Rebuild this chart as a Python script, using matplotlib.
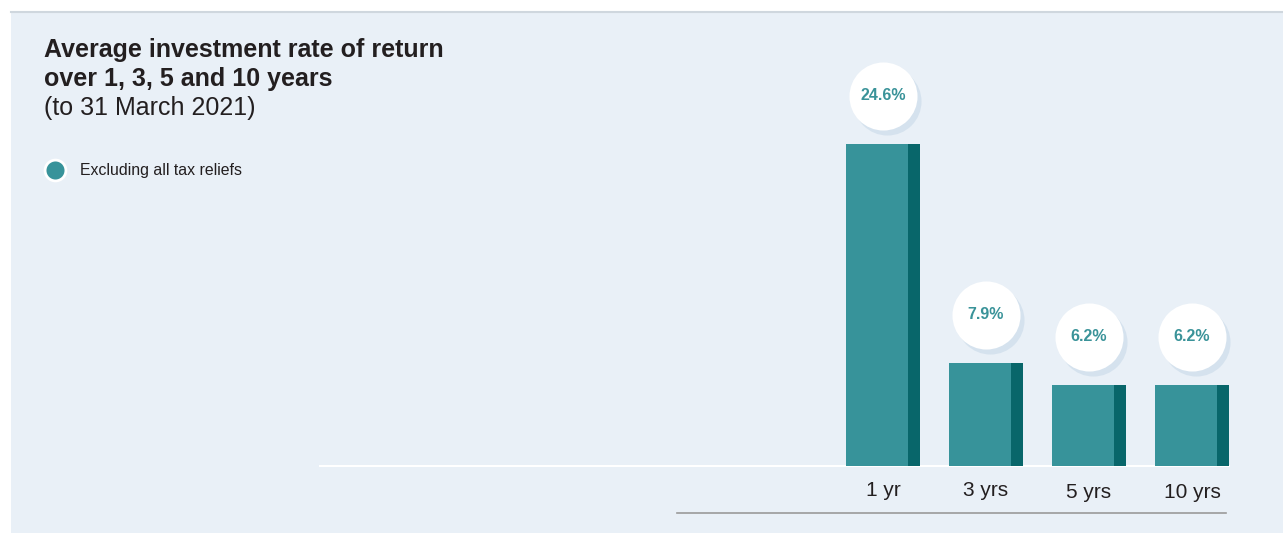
import matplotlib
matplotlib.use("Agg")
import matplotlib.pyplot as plt
from matplotlib.patches import Rectangle
from matplotlib.lines import Line2D
from matplotlib.transforms import offset_copy

plt.rcParams["font.family"] = ["Liberation Sans", "DejaVu Sans"]

# Data
periods = ["1 yr", "3 yrs", "5 yrs", "10 yrs"]
returns = [24.6, 7.9, 6.2, 6.2]
value_labels = ["24.6%", "7.9%", "6.2%", "6.2%"]

TEAL = "#37939a"
TEAL_DARK = "#08666a"
PANEL = "#e9f0f7"
SHADOW = "#d5e2ee"
INK = "#231f20"

W, H = 1283, 533
fig = plt.figure(figsize=(W / 100, H / 100), dpi=100)
fig.patch.set_facecolor("white")


def fx(px):
    return px / W


def fy(py):
    return 1 - py / H


# background panel with a thin top rule
fig.add_artist(Rectangle((fx(11), 0), 1 - fx(11), fy(12), transform=fig.transFigure,
                         facecolor=PANEL, edgecolor="none", zorder=0))
fig.add_artist(Line2D([fx(11), 1], [fy(12), fy(12)], transform=fig.transFigure,
                      color="#cfd7de", lw=1.5, zorder=1))

# title block
fig.text(fx(44), fy(57), "Average investment rate of return", fontsize=18,
         fontweight="bold", color=INK, va="baseline")
fig.text(fx(44), fy(86), "over 1, 3, 5 and 10 years", fontsize=18,
         fontweight="bold", color=INK, va="baseline")
fig.text(fx(44), fy(115), "(to 31 March 2021)", fontsize=18, color=INK, va="baseline")

# legend
fig.add_artist(Line2D([fx(55)], [fy(170)], transform=fig.transFigure, marker="o",
                      markersize=15, markerfacecolor=TEAL, markeredgecolor="white",
                      markeredgewidth=2, linestyle="none"))
fig.text(fx(80), fy(170), "Excluding all tax reliefs", fontsize=11.4, color=INK,
         va="center")

# bar axes: 103 px between categories, 13.09 px per percentage point
step = 103
left_px, right_px, base_px, top_px = 320, 1240, 466, 20
first_px = 883
ax = fig.add_axes([fx(left_px), fy(base_px), fx(right_px - left_px), (base_px - top_px) / H])
ax.set_facecolor("none")
ax.set_xlim((left_px - first_px) / step, (right_px - first_px) / step)
ax.set_ylim(0, (base_px - top_px) / 13.09)
for s in ax.spines.values():
    s.set_visible(False)
ax.set_xticks([])
ax.set_yticks([])

x = list(range(len(periods)))
bar_w = 74 / step
side_w = 12 / step
ax.bar(x, returns, width=bar_w, color=TEAL, zorder=3)
ax.bar([i + bar_w / 2 - side_w / 2 for i in x], returns, width=side_w,
       color=TEAL_DARK, zorder=4)

# baseline and lower rule
x0 = ax.get_xlim()[0]
ax.plot([x0, x[-1] + bar_w / 2], [0, 0], color="white", lw=1.5, zorder=2, clip_on=False)
ax.plot([(677 - first_px) / step, (1226 - first_px) / step], [-47 / 13.09] * 2,
        color="#9a9a9a", lw=1.2, clip_on=False)

# category labels (last two sit slightly lower)
label_drop = [24, 24, 27, 27]
for i, (p, d) in enumerate(zip(periods, label_drop)):
    tr = offset_copy(ax.transData, fig=fig, x=0, y=-d, units="dots")
    ax.text(i, 0, p, transform=tr, fontsize=15, color=INK, ha="center", va="center")

# value bubbles above each bar, with a soft drop shadow
for i, (v, lab) in enumerate(zip(returns, value_labels)):
    sh = offset_copy(ax.transData, fig=fig, x=4, y=48 - 5, units="dots")
    ax.scatter([i], [v], s=49 ** 2, color=SHADOW, transform=sh, zorder=5,
               linewidths=0, clip_on=False)
    c = offset_copy(ax.transData, fig=fig, x=0, y=48, units="dots")
    ax.scatter([i], [v], s=49 ** 2, color="white", transform=c, zorder=6,
               linewidths=0, clip_on=False)
    ax.text(i, v, lab, transform=c, fontsize=11.5, fontweight="bold", color="#3a9399",
            ha="center", va="center", zorder=7)

fig.savefig("out.png", dpi=100, facecolor=fig.get_facecolor())
